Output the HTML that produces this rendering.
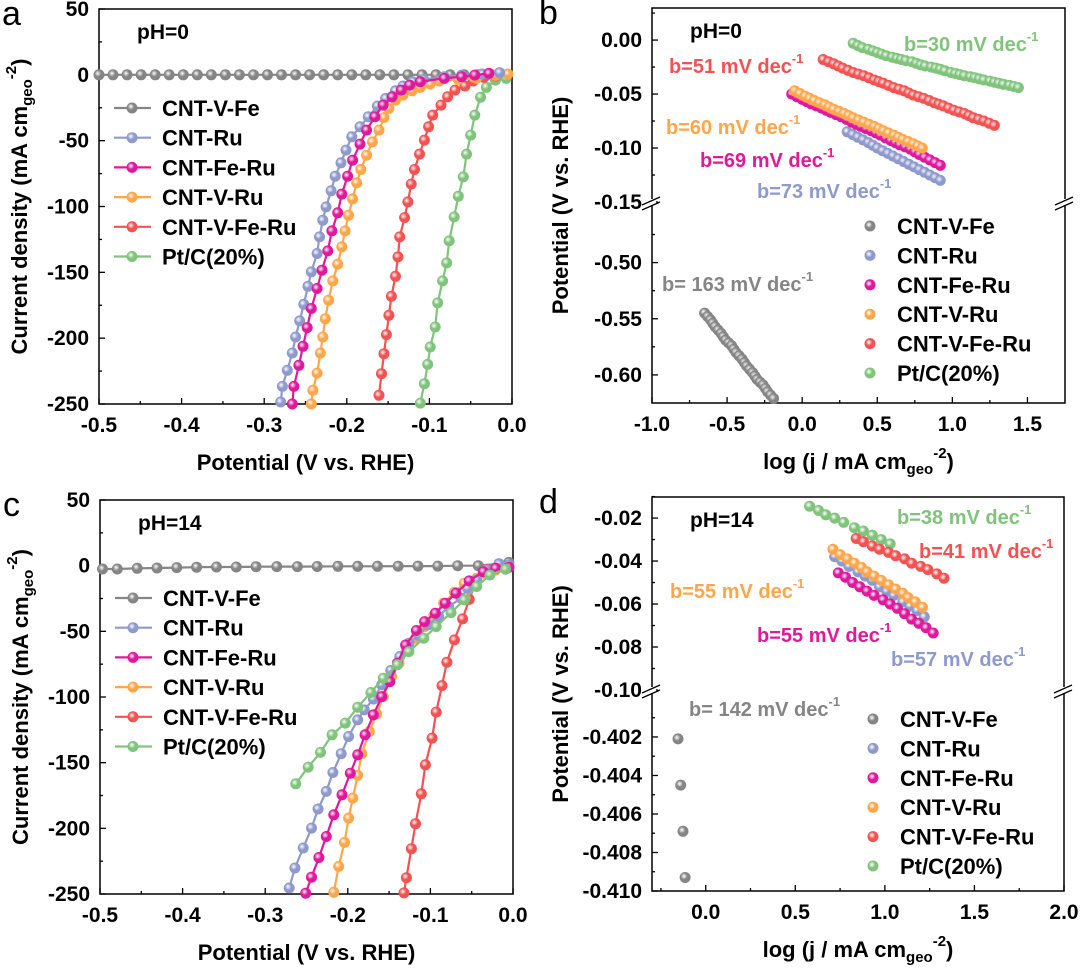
<!DOCTYPE html>
<html><head><meta charset="utf-8"><style>
body{margin:0;background:#fff;}
svg{display:block;font-family:"Liberation Sans",Arial,sans-serif;font-weight:bold;}
</style></head><body>
<svg id="fig" width="1080" height="971" viewBox="0 0 1080 971" xmlns="http://www.w3.org/2000/svg">
<defs id="defs"></defs>
<g id="root"></g>
</svg>
<script>
const seriesNames = ["CNT-V-Fe","CNT-Ru","CNT-Fe-Ru","CNT-V-Ru","CNT-V-Fe-Ru","Pt/C(20%)"];
const seriesKeys = ["gray","blue","magenta","orange","red","green"];
const seriesColors = ["#858585","#8e99cc","#e0189c","#ffa64a","#f25252","#80c47c"];

/* Panel a (pH=0 LSV) */
const aGrayX = [-0.5,-0.483,-0.466,-0.449,-0.432,-0.415,-0.398,-0.381,-0.364,-0.347,-0.330,-0.313,-0.296,-0.279,-0.262,-0.245,-0.228,-0.211,-0.194,-0.177,-0.160,-0.143,-0.126,-0.109,-0.092,-0.075,-0.058,-0.041,-0.024,-0.007];
const aGrayY = [0,0,0,0,0,0,0,0,0,0,0,0,0,0,0,0,0,0,0,0,0,0,0,0,0,0,0,0,0,0];
const aBlueX = [-0.015,-0.036,-0.061,-0.082,-0.107,-0.120,-0.132,-0.141,-0.153,-0.163,-0.174,-0.184,-0.194,-0.201,-0.207,-0.214,-0.219,-0.225,-0.229,-0.233,-0.236,-0.243,-0.247,-0.252,-0.257,-0.262,-0.266,-0.272,-0.278,-0.280];
const aBlueY = [1.6,0.6,-0.2,-1.4,-3.5,-5.2,-8.5,-12.1,-17.9,-23.7,-31.8,-39.5,-47.1,-57.2,-66.8,-77,-88.1,-100.3,-110.4,-123.1,-135.7,-149.7,-160.6,-174.3,-186.9,-199.1,-211.3,-224.4,-236.6,-248.5];
const aMagX = [-0.028,-0.045,-0.061,-0.082,-0.111,-0.124,-0.134,-0.145,-0.156,-0.166,-0.176,-0.184,-0.193,-0.199,-0.206,-0.211,-0.218,-0.223,-0.230,-0.236,-0.243,-0.248,-0.253,-0.258,-0.264,-0.266];
const aMagY = [1.1,-0.2,-1.4,-2.7,-5.2,-7.8,-11.6,-16.7,-23,-31.8,-42,-52.6,-64.8,-77,-90.6,-104.8,-118.5,-133.7,-148.4,-162.3,-177.5,-192,-206.2,-220.6,-236.6,-250];
const aOrgX = [-0.005,-0.020,-0.043,-0.065,-0.088,-0.099,-0.111,-0.121,-0.132,-0.141,-0.149,-0.155,-0.161,-0.169,-0.176,-0.183,-0.188,-0.193,-0.198,-0.202,-0.206,-0.211,-0.217,-0.222,-0.226,-0.229,-0.232,-0.236,-0.241,-0.243];
const aOrgY = [0.6,-0.4,-2.7,-3.5,-4.7,-7,-9.5,-12.1,-15.4,-19.2,-25.5,-32.4,-42,-50.9,-61,-71.9,-82,-94.2,-106.6,-118.5,-130.7,-143.8,-156.5,-171.2,-185.2,-199.1,-211.3,-226.5,-239.6,-250];
const aRedX = [-0.020,-0.034,-0.047,-0.057,-0.069,-0.078,-0.086,-0.096,-0.101,-0.106,-0.112,-0.118,-0.122,-0.126,-0.130,-0.136,-0.138,-0.141,-0.146,-0.149,-0.152,-0.155,-0.158,-0.161];
const aRedY = [-0.9,-1.9,-4.7,-8.5,-11.6,-16.7,-23,-30.6,-39.5,-49.6,-60.2,-71.9,-83,-96.5,-108.4,-123.1,-138.3,-153,-168.2,-182.6,-197.3,-211.8,-227,-243.4];
const aGrnX = [-0.007,-0.020,-0.031,-0.038,-0.045,-0.050,-0.055,-0.059,-0.065,-0.070,-0.076,-0.079,-0.084,-0.090,-0.093,-0.099,-0.102,-0.106,-0.111];
const aGrnY = [-2.7,-4,-9.5,-17,-30.6,-45.8,-60.2,-77.5,-92.2,-107.9,-126.1,-142.8,-156.5,-173.2,-191.5,-206.7,-219.9,-234.6,-249.3];

/* Panel c (pH=14 LSV) */
const cGrayX = [-0.497,-0.479,-0.455,-0.431,-0.407,-0.383,-0.359,-0.335,-0.311,-0.286,-0.261,-0.237,-0.212,-0.188,-0.164,-0.139,-0.115,-0.091,-0.067,-0.042,-0.017,-0.005];
const cGrayY = [-2.5,-2.5,-2,-1.8,-1.5,-1.2,-1,-1,-0.8,-0.7,-0.7,-0.6,-0.5,-0.5,-0.5,-0.4,-0.3,-0.3,0,0,1.5,2.5];
const cBlueX = [-0.005,-0.017,-0.032,-0.044,-0.055,-0.063,-0.078,-0.090,-0.103,-0.114,-0.126,-0.137,-0.148,-0.159,-0.169,-0.180,-0.188,-0.199,-0.208,-0.218,-0.226,-0.236,-0.244,-0.254,-0.264,-0.271];
const cBlueY = [0.5,1.3,-3.3,-10.9,-17.2,-24.8,-31.2,-38.8,-45.1,-53.2,-59,-69.2,-79.8,-90.7,-101.6,-109.8,-117.4,-130.1,-143.2,-157.5,-171.9,-185.3,-199.8,-215,-230.2,-245.4];
const cMagX = [-0.005,-0.021,-0.036,-0.053,-0.069,-0.082,-0.094,-0.107,-0.117,-0.130,-0.140,-0.149,-0.159,-0.169,-0.179,-0.188,-0.197,-0.207,-0.217,-0.226,-0.235,-0.244,-0.251];
const cMagY = [-1.2,-2,-4.6,-11.6,-21,-28.6,-36.2,-42.6,-49.4,-60.4,-74.3,-88.3,-99.7,-113.6,-128.8,-144,-158,-174.5,-189.7,-206.2,-222.2,-237.2,-249.4];
const cOrgX = [-0.007,-0.021,-0.034,-0.044,-0.059,-0.071,-0.084,-0.096,-0.107,-0.118,-0.129,-0.138,-0.147,-0.157,-0.165,-0.174,-0.183,-0.188,-0.194,-0.199,-0.204,-0.211,-0.217];
const cOrgY = [-2,-3.3,-5.8,-9.6,-13.4,-20.3,-28.6,-38,-46.4,-55.2,-64.1,-74.3,-84.4,-99.6,-112.8,-126.3,-143.2,-159.7,-177,-192.2,-210.7,-229,-248.7];
const cRedX = [-0.005,-0.017,-0.032,-0.044,-0.053,-0.061,-0.071,-0.080,-0.086,-0.093,-0.098,-0.106,-0.111,-0.118,-0.123,-0.129,-0.132];
const cRedY = [-1.2,-1.2,-2.7,-10.9,-25.6,-40.5,-56.5,-73.5,-91.3,-111.5,-131.3,-151.6,-173.7,-196.5,-215.5,-237.6,-249.2];
const cGrnX = [-0.009,-0.028,-0.044,-0.059,-0.075,-0.093,-0.108,-0.126,-0.140,-0.157,-0.172,-0.188,-0.203,-0.219,-0.233,-0.248,-0.263];
const cGrnY = [-2.7,-7.1,-15.9,-26.1,-35.7,-46.4,-55.2,-65.4,-75.5,-85.7,-96.6,-107.8,-119.9,-128.8,-142.2,-153.4,-166.1];

/* Panel b (pH=0 Tafel) */
const bGrnX = [0.34,0.37,0.40,0.44,0.47,0.50,0.53,0.56,0.60,0.63,0.66,0.69,0.73,0.76,0.79,0.82,0.86,0.89,0.92,0.95,0.99,1.02,1.05,1.08,1.12,1.15,1.18,1.21,1.25,1.28,1.31,1.34,1.38,1.41,1.44];
const bGrnY = [-0.003,-0.005,-0.007,-0.0085,-0.010,-0.0115,-0.013,-0.0145,-0.016,-0.017,-0.018,-0.019,-0.020,-0.0215,-0.023,-0.024,-0.025,-0.026,-0.027,-0.0285,-0.030,-0.031,-0.032,-0.033,-0.034,-0.035,-0.036,-0.037,-0.038,-0.039,-0.040,-0.041,-0.042,-0.043,-0.044];
const bRedX = [0.14,0.175,0.21,0.24,0.27,0.305,0.34,0.375,0.41,0.445,0.48,0.51,0.54,0.575,0.61,0.645,0.68,0.71,0.74,0.775,0.81,0.845,0.88,0.91,0.94,0.975,1.01,1.045,1.08,1.11,1.14,1.175,1.21,1.245,1.28];
const bRedY = [-0.018,-0.020,-0.022,-0.024,-0.026,-0.028,-0.030,-0.0315,-0.033,-0.035,-0.037,-0.0385,-0.040,-0.042,-0.044,-0.0455,-0.047,-0.049,-0.051,-0.0525,-0.054,-0.056,-0.058,-0.0595,-0.061,-0.063,-0.065,-0.0665,-0.068,-0.070,-0.072,-0.0735,-0.075,-0.077,-0.079];
const bMagX = [-0.07,-0.035,0.00,0.03,0.06,0.095,0.13,0.16,0.19,0.225,0.26,0.295,0.33,0.36,0.39,0.425,0.46,0.49,0.52,0.555,0.59,0.62,0.65,0.685,0.72,0.75,0.78,0.815,0.85,0.885,0.92];
const bMagY = [-0.050,-0.0525,-0.055,-0.057,-0.059,-0.061,-0.063,-0.065,-0.067,-0.069,-0.071,-0.0735,-0.076,-0.078,-0.080,-0.082,-0.084,-0.086,-0.088,-0.0905,-0.093,-0.095,-0.097,-0.099,-0.101,-0.1035,-0.106,-0.1085,-0.111,-0.1135,-0.116];
const bOrgX = [-0.05,-0.015,0.02,0.05,0.08,0.115,0.15,0.18,0.21,0.245,0.28,0.31,0.34,0.375,0.41,0.445,0.48,0.51,0.54,0.575,0.61,0.64,0.67,0.705,0.74,0.77,0.80];
const bOrgY = [-0.047,-0.0495,-0.052,-0.054,-0.056,-0.058,-0.060,-0.062,-0.064,-0.066,-0.068,-0.070,-0.072,-0.074,-0.076,-0.078,-0.080,-0.082,-0.084,-0.086,-0.088,-0.090,-0.092,-0.094,-0.096,-0.098,-0.100];
const bBlueX = [0.30,0.335,0.37,0.405,0.44,0.47,0.50,0.535,0.57,0.605,0.64,0.675,0.71,0.745,0.78,0.815,0.85,0.885,0.92];
const bBlueY = [-0.085,-0.0875,-0.090,-0.0925,-0.095,-0.0975,-0.100,-0.1025,-0.105,-0.1075,-0.110,-0.1125,-0.115,-0.1175,-0.120,-0.1225,-0.125,-0.1275,-0.130];
const bGrayX = [-0.65,-0.63,-0.61,-0.595,-0.58,-0.56,-0.54,-0.525,-0.51,-0.49,-0.47,-0.455,-0.44,-0.42,-0.40,-0.385,-0.37,-0.35,-0.33,-0.315,-0.30,-0.28,-0.26,-0.245,-0.23,-0.21,-0.19];
const bGrayY = [-0.545,-0.548,-0.551,-0.554,-0.557,-0.560,-0.563,-0.566,-0.569,-0.5715,-0.574,-0.577,-0.580,-0.583,-0.586,-0.589,-0.592,-0.595,-0.598,-0.601,-0.604,-0.6065,-0.609,-0.612,-0.615,-0.618,-0.621];

/* Panel d (pH=14 Tafel) */
const dGrnX = [0.58,0.63,0.67,0.72,0.77,0.83,0.88,0.93,0.98,1.03];
const dGrnY = [-0.0145,-0.0165,-0.0185,-0.020,-0.022,-0.0245,-0.026,-0.028,-0.030,-0.032];
const dRedX = [0.84,0.88,0.93,0.97,1.02,1.06,1.11,1.15,1.20,1.24,1.29,1.33];
const dRedY = [-0.0295,-0.031,-0.033,-0.0345,-0.036,-0.0375,-0.039,-0.041,-0.0425,-0.044,-0.046,-0.048];
const dBlueX = [0.72,0.76,0.80,0.85,0.89,0.93,0.97,1.01,1.05,1.10,1.14,1.18,1.22];
const dBlueY = [-0.038,-0.040,-0.0425,-0.045,-0.047,-0.049,-0.052,-0.054,-0.056,-0.059,-0.061,-0.063,-0.066];
const dOrgX = [0.71,0.75,0.79,0.83,0.87,0.90,0.94,0.98,1.02,1.06,1.10,1.13,1.17,1.21];
const dOrgY = [-0.0345,-0.037,-0.039,-0.041,-0.043,-0.045,-0.047,-0.049,-0.051,-0.053,-0.055,-0.057,-0.059,-0.0615];
const dMagX = [0.74,0.78,0.82,0.86,0.90,0.94,0.99,1.03,1.07,1.11,1.15,1.19,1.23,1.27];
const dMagY = [-0.0455,-0.0475,-0.050,-0.052,-0.054,-0.056,-0.058,-0.060,-0.062,-0.0645,-0.067,-0.069,-0.071,-0.0735];
const dGrayX = [-0.155,-0.14,-0.127,-0.115];
const dGrayY = [-0.4021,-0.4045,-0.4069,-0.4093];

const lsvXTicks = ["-0.5","-0.4","-0.3","-0.2","-0.1","0.0"];
const lsvYTicks = ["50","0","-50","-100","-150","-200","-250"];
const bXTicks = ["-1.0","-0.5","0.0","0.5","1.0","1.5"];
const bYTicksUp = ["0.00","-0.05","-0.10","-0.15"];
const bYTicksLow = ["-0.50","-0.55","-0.60"];
const dXTicks = ["0.0","0.5","1.0","1.5","2.0"];
const dYTicksUp = ["-0.02","-0.04","-0.06","-0.08","-0.10"];
const dYTicksLow = ["-0.402","-0.404","-0.406","-0.408","-0.410"];

const NS = "http://www.w3.org/2000/svg";
const root = document.getElementById('root');
const defs = document.getElementById('defs');
function mk(tag, attrs, parent){const e=document.createElementNS(NS,tag);for(const k in attrs)e.setAttribute(k,attrs[k]);(parent||root).appendChild(e);return e;}

seriesColors.forEach((c,i)=>{
  const g=mk('radialGradient',{id:'g'+i,cx:'0.4',cy:'0.38',r:'0.65'},defs);
  mk('stop',{offset:'0','stop-color':'#ffffff','stop-opacity':'0.85'},g);
  mk('stop',{offset:'0.45','stop-color':c},g);
  mk('stop',{offset:'1','stop-color':c},g);
});

const TICK=21, LEG=22, TITLE=22, PH=21, ANN=20;
function lin(d0,d1,p0,p1){return v=>p0+(v-d0)/(d1-d0)*(p1-p0);}
function txt(parent,x,y,s,size,anchor,fill,name){
  const t=mk('text',{x:x,y:y,'font-size':size,'text-anchor':anchor||'start',fill:fill||'#000'},parent);
  t.textContent=s;
  
  
  return t;
}
function dot(parent,x,y,r,ci,name){
  const c=mk('circle',{cx:x.toFixed(1),cy:y.toFixed(1),r:r,fill:'url(#g'+ci+')'},parent);
  
  
}
function frame(g,L,T,R,B){
  const r=mk('rect',{x:L,y:T,width:R-L,height:B-T,fill:'none',stroke:'#000','stroke-width':1.5},g);
  
  
}
function tick(g,x1,y1,x2,y2){mk('line',{x1:x1,y1:y1,x2:x2,y2:y2,stroke:'#000','stroke-width':1.3},g);}

function lsvPanel(id,L,T,R,B,letter,ph,sets,legendY){
  const g=mk('g',{});
  
  
  const sx=lin(-0.5,0,L,R), sy=lin(50,-250,T,B);
  frame(g,L,T,R,B);
  lsvXTicks.forEach(s=>{const v=parseFloat(s),x=sx(v);tick(g,x,B,x,B-6);txt(g,x,B+28,s,TICK,'middle','#000','x-tick-label');});
  for(let v=-0.45;v<0;v+=0.1){tick(g,sx(v),B,sx(v),B-3);}
  lsvYTicks.forEach(s=>{const v=parseFloat(s),y=sy(v);tick(g,L,y,L+6,y);txt(g,L-10,y+7,s,TICK,'end','#000','y-tick-label');});
  for(let v=25;v>-250;v-=50){tick(g,L,sy(v),L+3,sy(v));}
  txt(g,L-97,T+16,letter,34,'start','#000','panel-letter').setAttribute('font-weight','normal');
  txt(g,L+38,T+30,ph,PH,'start','#000','ph-label');
  txt(g,(L+R)/2,B+66,'Potential  (V vs. RHE)',TITLE,'middle','#000','x-axis-title');
  const yt=mk('text',{transform:`translate(${L-72},${(T+B)/2}) rotate(-90)`,'font-size':TITLE,'text-anchor':'middle'},g);
  yt.innerHTML='Current density (mA cm<tspan font-size="15" dy="5">geo</tspan><tspan font-size="15" dy="-16">-2</tspan><tspan dy="11">)</tspan>';
  
  
  sets.forEach(([xs,ys,ci])=>{
    const sg=mk('g',{},g);
    
    
    const pts=xs.map((x,i)=>sx(x).toFixed(1)+','+sy(ys[i]).toFixed(1)).join(' ');
    mk('polyline',{points:pts,fill:'none',stroke:seriesColors[ci],'stroke-width':2.2},sg);
    xs.forEach((x,i)=>{if(x>=-0.5&&ys[i]>=-251)dot(sg,sx(x),sy(ys[i]),5.5,ci,'point-'+seriesKeys[ci]);});
  });
  seriesNames.forEach((n,i)=>{
    const lg=mk('g',{},g);
    
    
    const y=legendY+i*29.7;
    mk('line',{x1:L+15,y1:y,x2:L+52,y2:y,stroke:seriesColors[i],'stroke-width':2.2},lg);
    dot(lg,L+33,y,5.5,i,'legend-marker');
    txt(lg,L+63,y+8,n,LEG,'start','#000','legend-text');
  });
}

function tafelPanel(id,L,T,R,B,letter,ph,xd,xt,brk,up,low,ytUp,ytLow,minorUp,minorLow,sets,anns,legX,legY,legStep){
  const g=mk('g',{});
  
  
  const sx=lin(xd[0],xd[1],L,R);
  const syU=lin(up[0],up[1],T,brk), syL=lin(low[0],low[1],low[2],B);
  frame(g,L,T,R,B);
  xt.forEach(s=>{const v=parseFloat(s),x=sx(v);tick(g,x,B,x,B-6);txt(g,x,B+28,s,TICK,'middle','#000','x-tick-label');});
  for(let v=xd[0]+0.0001;v<xd[1];v+=0.25){const r=Math.round(v*4)/4;if(Math.abs(r*2-Math.round(r*2))>0.01)tick(g,sx(r),B,sx(r),B-3);}
  ytUp.forEach(s=>{const y=syU(parseFloat(s));tick(g,L,y,L+6,y);txt(g,L-10,y+7,s,TICK,'end','#000','y-tick-label');});
  ytLow.forEach(s=>{const y=syL(parseFloat(s));tick(g,L,y,L+6,y);txt(g,L-10,y+7,s,TICK,'end','#000','y-tick-label');});
  minorUp.forEach(v=>tick(g,L,syU(v),L+3,syU(v)));
  minorLow.forEach(v=>tick(g,L,syL(v),L+3,syL(v)));
  [L,R].forEach(x=>{
    mk('rect',{x:x-4,y:brk-3,width:8,height:6,fill:'#fff'},g);
    mk('line',{x1:x-10,y1:brk+3,x2:x+8,y2:brk-5,stroke:'#000','stroke-width':1.3},g);
    mk('line',{x1:x-10,y1:brk+8,x2:x+8,y2:brk,stroke:'#000','stroke-width':1.3},g);
  });
  txt(g,L-113,T+16,letter,34,'start','#000','panel-letter').setAttribute('font-weight','normal');
  txt(g,L+38,T+30,ph,PH,'start','#000','ph-label');
  const xtt=mk('text',{x:(L+R)/2,y:B+66,'font-size':TITLE,'text-anchor':'middle'},g);
  xtt.innerHTML='log (j / mA cm<tspan font-size="15" dy="5">geo</tspan><tspan font-size="15" dy="-16">-2</tspan><tspan dy="11">)</tspan>';
  
  
  const ytt=txt(g,0,0,'Potential  (V vs. RHE)',TITLE,'middle','#000','y-axis-title');
  ytt.setAttribute('transform',`translate(${L-84},${(T+B)/2}) rotate(-90)`);
  sets.forEach(([xs,ys,ci,lower])=>{
    const sg=mk('g',{},g);
    
    
    const sy=lower?syL:syU;
    xs.forEach((x,i)=>{const y=sy(ys[i]);if(y<=B+2)dot(sg,sx(x),y,5.5,ci,'point-'+seriesKeys[ci]);});
  });
  anns.forEach(([x,y,s,ci])=>{
    const t=mk('text',{x:x,y:y,'font-size':ANN,fill:seriesColors[ci]},g);
    t.innerHTML=s+' mV dec<tspan font-size="13" dy="-10">-1</tspan>';
    
    
  });
  seriesNames.forEach((n,i)=>{
    const lg=mk('g',{},g);
    
    
    const y=legY+i*legStep;
    dot(lg,legX,y,5.5,i,'legend-marker');
    txt(lg,legX+27,y+8,n,LEG,'start','#000','legend-text');
  });
}

lsvPanel('panel-a',99,9,512,404,'a','pH=0',[[aGrayX,aGrayY,0],[aGrnX,aGrnY,5],[aRedX,aRedY,4],[aOrgX,aOrgY,3],[aBlueX,aBlueY,1],[aMagX,aMagY,2]],108);
lsvPanel('panel-c',100,500,513,894,'c','pH=14',[[cGrayX,cGrayY,0],[cRedX,cRedY,4],[cOrgX,cOrgY,3],[cBlueX,cBlueY,1],[cMagX,cMagY,2],[cGrnX,cGrnY,5]],598);

tafelPanel('panel-b',652,8,1065,403,'b','pH=0',[-1,1.75],bXTicks,202,[0.0297,-0.15],[-0.4505,-0.625,207],
  bYTicksUp,bYTicksLow,[0.025,-0.025,-0.075,-0.125],[-0.475,-0.525,-0.575],
  [[bGrnX,bGrnY,5],[bRedX,bRedY,4],[bBlueX,bBlueY,1],[bMagX,bMagY,2],[bOrgX,bOrgY,3],[bGrayX,bGrayY,0,true]],
  [[904,51,'b=30',5],[669,73,'b=51',4],[666,134,'b=60',3],[700,167,'b=69',2],[757,198,'b=73',1],[662,291,'b= 163',0]],
  870,226,29.4);

tafelPanel('panel-d',652,497,1064,891,'d','pH=14',[-0.30,2.0],dXTicks,690,[-0.0102,-0.10],[-0.39982,-0.41,695],
  dYTicksUp,dYTicksLow,[-0.01,-0.03,-0.05,-0.07,-0.09],[-0.401,-0.403,-0.405,-0.407,-0.409],
  [[dGrnX,dGrnY,5],[dRedX,dRedY,4],[dBlueX,dBlueY,1],[dOrgX,dOrgY,3],[dMagX,dMagY,2],[dGrayX,dGrayY,0,true]],
  [[897,524,'b=38',5],[919,558,'b=41',4],[670,598,'b=55',3],[757,642,'b=55',2],[891,666,'b=57',1],[689,716,'b= 142',0]],
  873,719,29.4);
</script>
</body></html>
